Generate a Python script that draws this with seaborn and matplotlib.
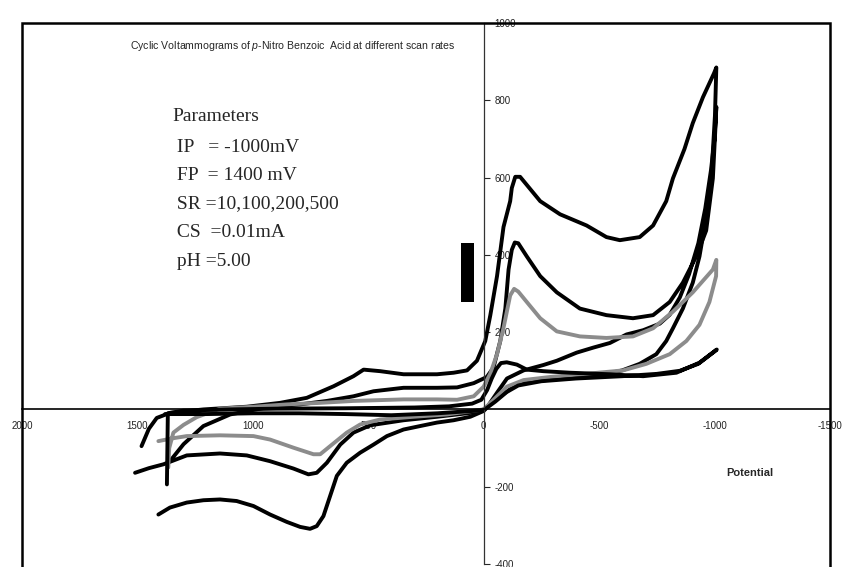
import matplotlib
matplotlib.use("Agg")
from matplotlib import pyplot as plt
from matplotlib import font_manager
from matplotlib.patches import Rectangle
import seaborn as sns
import pandas as pd

# scan rates (mV/s) and their trace colours
scan_rates = ["500", "200", "100", "10"]
trace_colors = {"500": "black", "200": "black", "100": "#8c8c8c", "10": "black"}

# (potential mV, current), in drawing order
cv_500 = [(1409, -272), (1359, -254), (1286, -241), (1214, -235), (1142, -233), (1070, -237),
          (997, -250), (925, -272), (853, -291), (795, -304), (752, -309), (723, -302),
          (694, -276), (665, -224), (636, -172), (593, -138), (535, -112), (477, -91),
          (419, -69), (347, -52), (275, -43), (202, -34), (130, -28), (58, -19), (0, -4),
          (-30, 15), (-72, 34), (-144, 65), (-216, 73), (-350, 80), (-500, 88), (-600, 101),
          (-676, 118), (-748, 143), (-791, 177), (-820, 210), (-863, 261), (-906, 328),
          (-935, 396), (-964, 497), (-986, 598), (-1002, 760), (-1008, 885), (-998, 870),
          (-950, 808), (-906, 741), (-870, 674), (-820, 598), (-791, 539), (-734, 476),
          (-676, 446), (-590, 438), (-532, 446), (-446, 476), (-331, 505), (-245, 539),
          (-187, 581), (-158, 602), (-137, 602), (-122, 573), (-115, 539), (-86, 472),
          (-58, 345), (-29, 244), (-7, 177), (29, 126), (72, 101), (130, 95), (202, 91),
          (347, 91), (448, 99), (520, 103), (564, 86), (650, 60), (766, 30), (882, 17),
          (1026, 7), (1214, 0), (1359, -9), (1416, -22), (1450, -50), (1482, -95)]

cv_200 = [(1510, -164), (1450, -152), (1387, -142), (1286, -119), (1142, -114), (1026, -119),
          (925, -134), (824, -153), (759, -168), (723, -164), (679, -138), (621, -91),
          (564, -60), (491, -41), (347, -28), (202, -19), (58, -9), (0, 0), (-20, 10),
          (-60, 45), (-101, 80), (-173, 101), (-259, 115), (-317, 126), (-403, 147),
          (-475, 160), (-547, 172), (-619, 194), (-691, 205), (-763, 222), (-806, 245),
          (-850, 290), (-890, 350), (-930, 430), (-960, 520), (-985, 620), (-1000, 700),
          (-1008, 783), (-1005, 740), (-993, 598), (-964, 463), (-921, 396), (-863, 328),
          (-806, 278), (-734, 244), (-647, 236), (-532, 244), (-417, 261), (-317, 303),
          (-245, 345), (-187, 396), (-150, 430), (-135, 432), (-122, 413), (-108, 362),
          (-94, 261), (-72, 177), (-43, 109), (-14, 84), (43, 68), (115, 57), (202, 56),
          (347, 56), (477, 47), (564, 34), (679, 22), (795, 13), (925, 7), (1098, -13),
          (1214, -43), (1300, -90), (1359, -134)]

cv_100 = [(1409, -82), (1350, -75), (1286, -69), (1142, -67), (997, -69), (925, -78),
          (824, -99), (737, -116), (708, -116), (665, -95), (593, -60), (535, -39),
          (448, -26), (304, -19), (159, -13), (0, 0), (-43, 25), (-101, 59), (-173, 76),
          (-288, 84), (-460, 93), (-604, 101), (-705, 118), (-806, 143), (-878, 177),
          (-935, 219), (-978, 278), (-1007, 345), (-1008, 387), (-993, 362), (-906, 303),
          (-820, 253), (-734, 210), (-647, 189), (-532, 185), (-417, 189), (-317, 202),
          (-245, 236), (-187, 278), (-150, 305), (-132, 312), (-115, 295), (-86, 211),
          (-58, 143), (-29, 93), (0, 59), (43, 34), (115, 25), (202, 26), (347, 26),
          (564, 22), (708, 17), (853, 13), (997, 7), (1142, 2), (1243, -20), (1300, -40),
          (1344, -60), (1362, -100), (1366, -150)]

cv_10 = [(1380, -12), (1200, -12), (1000, -10), (800, -10), (600, -12), (400, -15),
         (200, -10), (0, -2), (-50, 20), (-100, 45), (-150, 62), (-250, 73), (-400, 80),
         (-600, 86), (-750, 92), (-850, 100), (-930, 118), (-1000, 150), (-1010, 155),
         (-935, 121), (-835, 95), (-691, 86), (-547, 91), (-374, 95), (-259, 99),
         (-187, 103), (-144, 116), (-100, 122), (-75, 120), (-55, 105), (-35, 80),
         (-15, 50), (10, 25), (50, 15), (150, 8), (300, 5), (600, 3), (900, 2), (1100, 0),
         (1300, -3), (1368, -10), (1372, -194)]

x_ticks = [2000, 1500, 1000, 500, 0, -500, -1000, -1500]
y_ticks = [-400, -200, 200, 400, 600, 800, 1000]

title = "Cyclic Voltammograms of $\\mathit{p}$-Nitro Benzoic  Acid at different scan rates"
param_lines = ["Parameters", " IP   = -1000mV", " FP  = 1400 mV",
               " SR =10,100,200,500", " CS  =0.01mA", " pH =5.00"]

rows = []
for rate, curve in zip(scan_rates, [cv_500, cv_200, cv_100, cv_10]):
    for pot, cur in curve:
        rows.append({"potential": pot, "current": cur, "rate": rate})
df = pd.DataFrame(rows)

sns.set_style("white")
names = {f.name for f in font_manager.fontManager.ttflist}
narrow = "Liberation Sans Narrow" if "Liberation Sans Narrow" in names else "Liberation Sans"
plt.rcParams["font.family"] = ["Liberation Sans", "DejaVu Sans"]
plt.rcParams["axes.unicode_minus"] = False
plt.rcParams["mathtext.fontset"] = "custom"
plt.rcParams["mathtext.it"] = narrow + ":italic"
plt.rcParams["mathtext.rm"] = narrow

fig = plt.figure(figsize=(8.44, 5.67), dpi=100)
ax = fig.add_axes([0.026, 0.0053, 0.9573, 0.9541])

sns.lineplot(data=df, x="potential", y="current", hue="rate", hue_order=scan_rates,
             palette=trace_colors, sort=False, estimator=None, lw=2.8,
             legend=False, ax=ax)

ax.set_xlim(2000, -1500)
ax.set_ylim(-400, 1000)
ax.set_xlabel("")
ax.set_ylabel("")
ax.spines["left"].set_visible(False)
ax.spines["top"].set_visible(False)
ax.spines["right"].set_position(("data", 0))
ax.spines["bottom"].set_position(("data", 0))
ax.spines["right"].set_linewidth(0.9)
ax.spines["bottom"].set_linewidth(1.2)
ax.spines["right"].set_color("#333333")
ax.spines["bottom"].set_color("black")
ax.yaxis.tick_right()
ax.set_xticks(x_ticks)
ax.set_yticks(y_ticks)
ax.tick_params(axis="x", direction="in", length=4, width=0.8, labelsize=7, pad=8,
               labelcolor="#222222")
ax.tick_params(axis="y", direction="out", length=4, width=0.8, labelsize=7, pad=4,
               labelcolor="#222222")

# outer frame of the plot area
ax.add_patch(Rectangle((0, -0.05), 1, 1.05, transform=ax.transAxes, fill=False,
                       lw=1.8, ec="black", clip_on=False, zorder=5))
# black block next to the current axis
ax.add_patch(Rectangle((0.5433, 0.4843), 0.0161, 0.109, transform=ax.transAxes,
                       fc="black", ec="none", zorder=4))

fig.text(0.347, 0.919, title, ha="center", va="center", fontsize=7.6,
         family=[narrow, "DejaVu Sans"])

param_y = [117, 147, 175, 204, 233, 262]
for line, py in zip(param_lines, param_y):
    fig.text(172 / 844, 1 - py / 567, line, ha="left", va="center", fontsize=14,
             family=["Liberation Serif", "DejaVu Serif"])

fig.text(750 / 844, 1 - 473 / 567, "Potential", ha="center", va="center",
         fontsize=8, fontweight="bold")

fig.savefig("out.png", dpi=100)
